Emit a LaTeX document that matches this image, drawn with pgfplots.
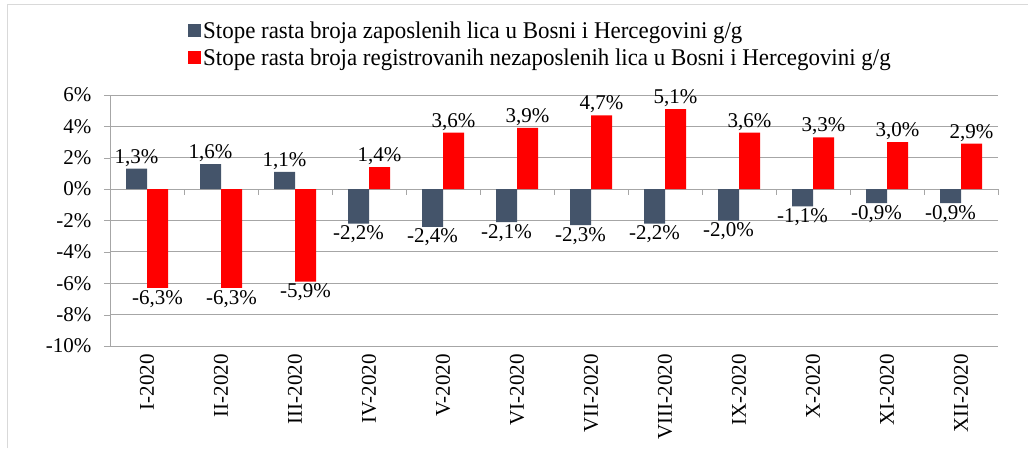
\documentclass[border=0pt]{standalone}
\usepackage{pgfplots}
\pgfplotsset{compat=1.18}
\usepackage{fontspec}
\setmainfont{Liberation Serif}
\newfontfamily\legfont[FakeStretch=0.955]{Liberation Serif}

\definecolor{zapBlue}{HTML}{44546A}
\definecolor{nezRed}{HTML}{FF0000}
\definecolor{gridGray}{HTML}{A6A6A6}

\begin{document}
\begin{tikzpicture}
\useasboundingbox (0,0) rectangle (1028pt,448pt);
% chart frame
\draw[black!15] (7pt,0) |- (1028pt,444pt);
\begin{axis}[
    at={(110pt,102pt)}, anchor=south west,
    scale only axis, width=888pt, height=251pt,
    ybar=0pt, bar width=21pt,
    xmin=-0.5, xmax=11.5, ymin=-10, ymax=6,
    clip=false,
    /pgf/number format/assume math mode=true,
    xtick={0,...,11},
    xticklabels={I-2020,II-2020,III-2020,IV-2020,V-2020,VI-2020,VII-2020,VIII-2020,IX-2020,X-2020,XI-2020,XII-2020},
    xticklabel style={rotate=90, anchor=east, inner sep=2pt},
    ytick={-10,-8,...,6},
    yticklabel={\pgfmathprintnumber{\tick}\%},
    yticklabel style={xshift=-9pt},
    tick label style={font=\fontsize{21}{25}\selectfont},
    xtick style={draw=none},
    ytick style={draw=gridGray},
    tick align=outside, major tick length=6pt,
    axis x line*=bottom, axis y line*=left,
    axis line style={gridGray, line width=0.8pt},
    ymajorgrids, grid style={gridGray, line width=0.8pt},
    nodes near coords={\pgfmathprintnumber[fixed,fixed zerofill,precision=1,use comma]{\pgfplotspointmeta}\%},
    nodes near coords align={vertical},
    every node near coord/.append style={font=\fontsize{21}{25}\selectfont, black, inner sep=2pt},
    legend style={at={(0.0845,1.31)}, anchor=north west, draw=none, fill=none,
        font=\legfont\fontsize{24}{26}\selectfont, row sep=5pt},
    legend cell align=left,
]
\addplot[fill=zapBlue, draw=none,
    legend image code/.code={\fill[zapBlue] (0pt,-6.5pt) rectangle (13pt,6.5pt);}]
    coordinates {(0,1.3) (1,1.6) (2,1.1) (3,-2.2) (4,-2.4) (5,-2.1)
                 (6,-2.3) (7,-2.2) (8,-2.0) (9,-1.1) (10,-0.9) (11,-0.9)};
\addplot[fill=nezRed, draw=none,
    legend image code/.code={\fill[nezRed] (0pt,-6.5pt) rectangle (13pt,6.5pt);}]
    coordinates {(0,-6.3) (1,-6.3) (2,-5.9) (3,1.4) (4,3.6) (5,3.9)
                 (6,4.7) (7,5.1) (8,3.6) (9,3.3) (10,3.0) (11,2.9)};
\legend{Stope rasta broja zaposlenih lica u Bosni i Hercegovini g/g,
        Stope rasta broja registrovanih nezaposlenih lica u Bosni i Hercegovini g/g}
% small ticks on the zero line between categories
\pgfplotsinvokeforeach{-0.5,0.5,...,11.5}{
    \draw[gridGray, line width=0.8pt] (axis cs:#1,0) -- ++(0pt,-6pt);
}
\end{axis}
\end{tikzpicture}
\end{document}
